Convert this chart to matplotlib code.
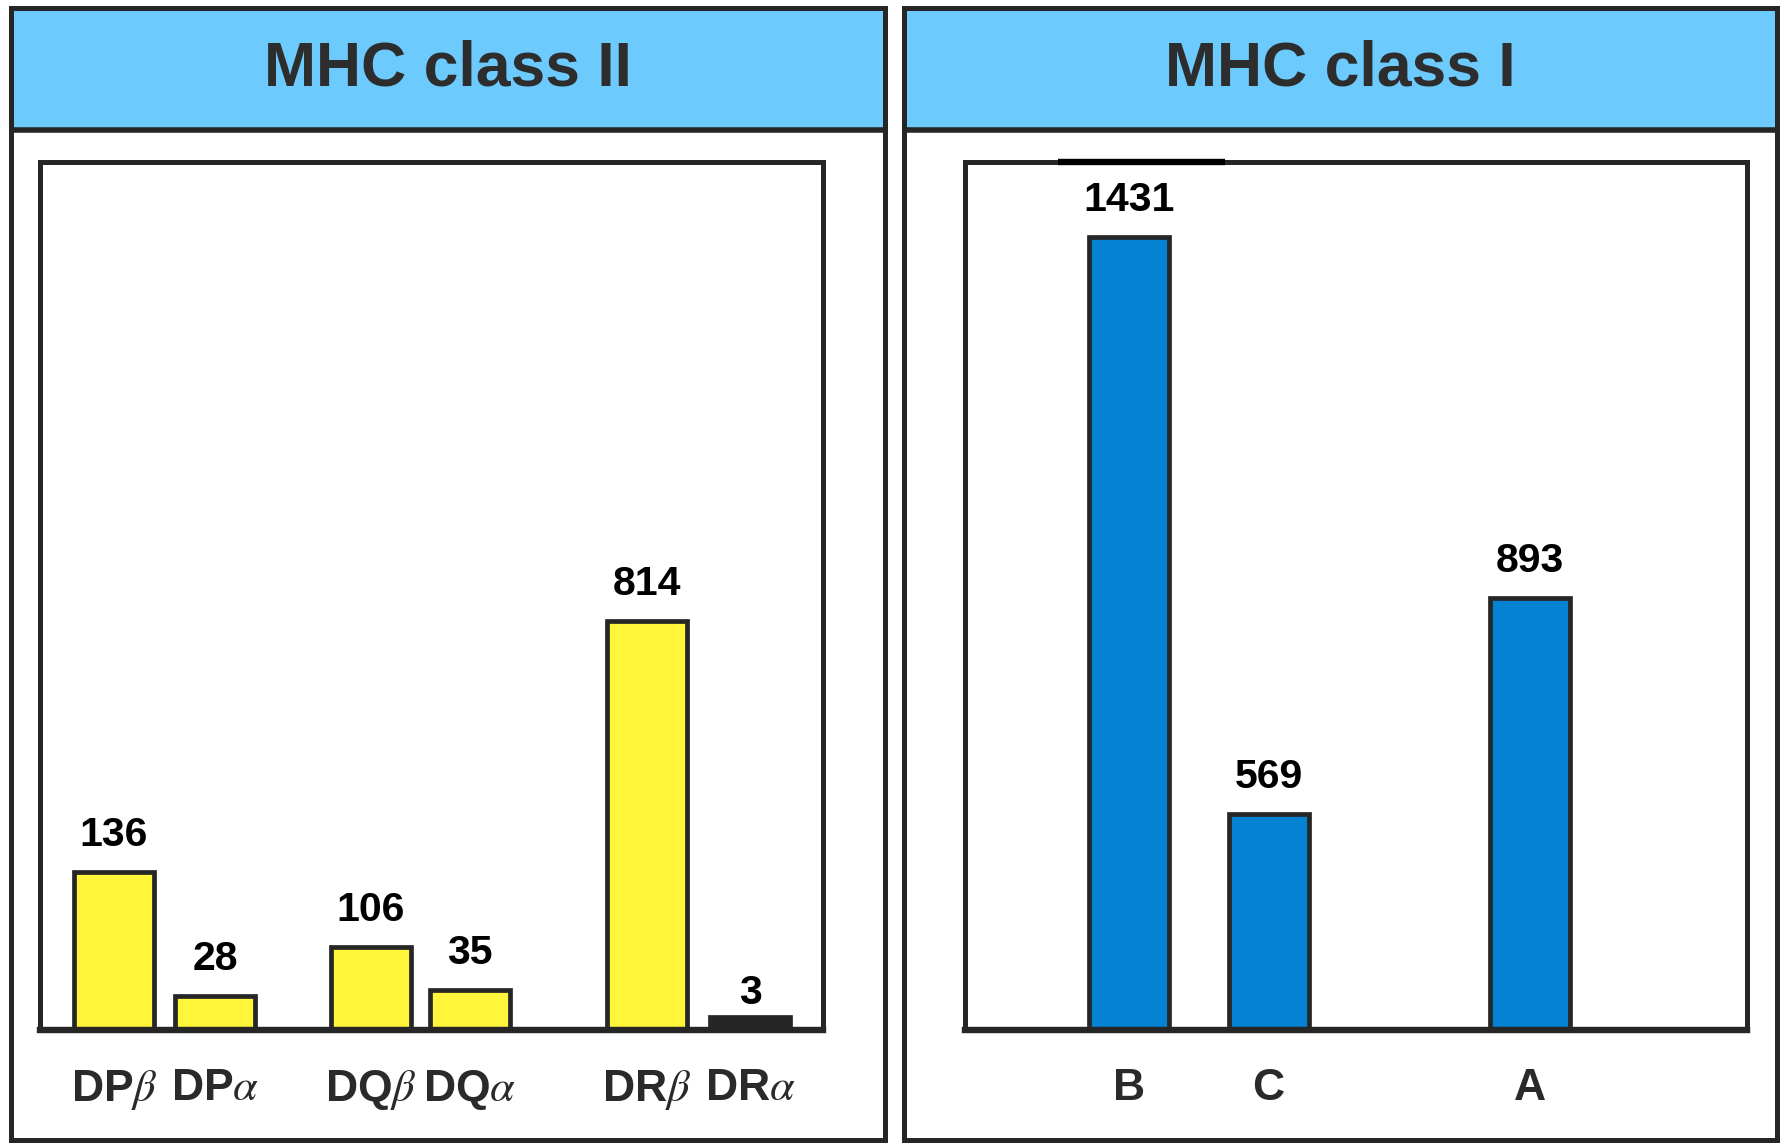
import matplotlib
matplotlib.use("Agg")
import matplotlib.pyplot as plt
from matplotlib.patches import Rectangle

plt.rcParams['font.family'] = ['Liberation Sans', 'DejaVu Sans']
plt.rcParams['mathtext.fontset'] = 'stix'

# class II genes (left panel)
genes_ii = [r'DP$\beta$', r'DP$\alpha$', r'DQ$\beta$', r'DQ$\alpha$', r'DR$\beta$', r'DR$\alpha$']
alleles_ii = [136, 28, 106, 35, 814, 3]
# drawn bar heights (figure is not to scale)
height_ii = [158, 34, 83, 40, 409, 13]

# class I genes (right panel)
genes_i = ['B', 'C', 'A']
alleles_i = [1431, 569, 893]
height_i = [793, 216, 432]

# layout
pos_ii = [0, 1.01, 2.57, 3.56, 5.33, 6.36]
pos_i = [0, 1.395, 4.01]
gap_ii = [19, 19, 19, 19, 19, 9]
gap_i = [19, 19, 19]
W, H = 1785, 1144
header_blue = '#6dcafc'
yellow = '#fff53b'
blue = '#0582d2'
dark = '#262626'

fig = plt.figure(figsize=(W / 100, H / 100), dpi=100)


def px_rect(x0, y0, x1, y1):
    return [x0 / W, 1 - y1 / H, (x1 - x0) / W, (y1 - y0) / H]


def panel(x0, x1, title):
    p = fig.add_axes(px_rect(x0, 8, x1, 1140))
    p.set_xlim(0, 1)
    p.set_ylim(0, 1)
    p.set_xticks([])
    p.set_yticks([])
    for s in p.spines.values():
        s.set_linewidth(3.6)
        s.set_color(dark)
    hb = 1 - (129.5 - 8) / 1132
    p.add_patch(Rectangle((0, hb), 1, 1 - hb, facecolor=header_blue,
                          edgecolor='none', zorder=1))
    p.axhline(hb, color=dark, lw=4, zorder=2)
    p.text(0.5, (1 + hb) / 2, title, ha='center', va='center',
           fontsize=45, fontweight='bold', color='#2d2d2d')
    return p


panel(10.5, 884.5, 'MHC class II')
panel(903.5, 1776.5, 'MHC class I')


def bars(x0, x1, pos, heights, values, labels, colors, gaps, xmin):
    ax = fig.add_axes(px_rect(x0, 162, x1, 1030))
    ax.set_xlim(xmin, xmin + (x1 - x0) / 100)
    ax.set_ylim(0, 868)
    ax.bar(pos, heights, width=0.8, color=colors, edgecolor=dark,
           linewidth=3.4, zorder=2)
    for x, h, v, g in zip(pos, heights, values, gaps):
        ax.annotate(str(v), (x, h), xytext=(0, g), textcoords='offset points',
                    ha='center', va='baseline', fontsize=29.5,
                    fontweight='bold', color='black')
    ax.set_xticks(pos, labels)
    ax.set_yticks([])
    ax.tick_params(axis='x', length=0, pad=27, labelsize=32,
                   labelcolor='#2a2a2a')
    for t in ax.get_xticklabels():
        t.set_fontweight('bold')
    for s in ax.spines.values():
        s.set_linewidth(3.6)
        s.set_color(dark)
    ax.spines['bottom'].set_linewidth(4.6)
    return ax


cols_ii = [yellow] * 5 + [dark]
bars(40, 823, pos_ii, height_ii, alleles_ii, genes_ii, cols_ii, gap_ii, -0.74)
ax_i = bars(965, 1747, pos_i, height_i, alleles_i, genes_i, [blue] * 3,
            gap_i, -1.64)
# dark stroke over the top frame above bar B
ax_i.plot([pos_i[0] - 0.71, pos_i[0] + 0.96], [868, 868], color='black',
          lw=4.6, clip_on=False, zorder=5, solid_capstyle='butt')

fig.savefig('out.png', dpi=100)
